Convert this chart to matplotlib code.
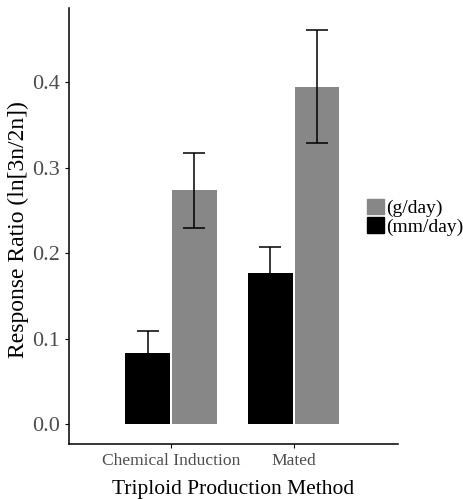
import matplotlib
matplotlib.use("Agg")
import matplotlib.pyplot as plt
import matplotlib.patches as mpatches
import numpy as np

plt.rcParams["font.family"] = ["Liberation Serif", "DejaVu Serif"]

categories = ["Chemical Induction", "Mated"]
series = ["(mm/day)", "(g/day)"]
mm_day = [0.084, 0.177]
mm_day_err = [0.025, 0.031]
g_day = [0.274, 0.395]
g_day_err = [0.044, 0.066]

BLACK = "#000000"
GRAY = "#878787"

fig = plt.figure(figsize=(4.64, 4.99), dpi=100)
ax = fig.add_axes([0.1487, 0.110, 0.709, 0.874])

x = np.arange(1, len(categories) + 1)
off = 0.19
w = 0.365
ax.errorbar(x - off, mm_day, yerr=mm_day_err, fmt="none", ecolor="black",
            elinewidth=1.1, capsize=8, capthick=1.1, zorder=1)
ax.bar(x - off, mm_day, width=w, color=BLACK, zorder=2)
ax.bar(x + off, g_day, width=w, color=GRAY, zorder=2)
ax.errorbar(x + off, g_day, yerr=g_day_err, fmt="none", ecolor="black",
            elinewidth=1.1, capsize=8, capthick=1.1, zorder=3)

ax.set_xlim(0.17, 2.85)
ax.set_ylim(-0.023, 0.487)
ax.set_yticks([0.0, 0.1, 0.2, 0.3, 0.4])
ax.set_yticklabels(["0.0", "0.1", "0.2", "0.3", "0.4"])
ax.set_xticks(x)
ax.set_xticklabels(categories)
ax.tick_params(axis="y", labelsize=16, labelcolor="#4d4d4d", length=3, width=0.8)
ax.tick_params(axis="x", labelsize=12.6, labelcolor="#4d4d4d", length=3, width=0.8)
for s in ["top", "right"]:
    ax.spines[s].set_visible(False)
for s in ["left", "bottom"]:
    ax.spines[s].set_linewidth(1.1)

ax.set_ylabel("Response Ratio (ln[3n/2n])", fontsize=17)
ax.yaxis.set_label_coords(-0.122, 0.493)
ax.set_xlabel("Triploid Production Method", fontsize=15.5, labelpad=8)

handles = [mpatches.Patch(color=GRAY, label=series[1]),
           mpatches.Patch(color=BLACK, label=series[0])]
fig.legend(handles=handles, loc="center left", bbox_to_anchor=(0.792, 0.565),
           frameon=False, fontsize=14, handlelength=0.85, handleheight=0.85,
           handletextpad=0.1, labelspacing=0.0, borderaxespad=0, borderpad=0)

fig.savefig("out.png", dpi=100)
